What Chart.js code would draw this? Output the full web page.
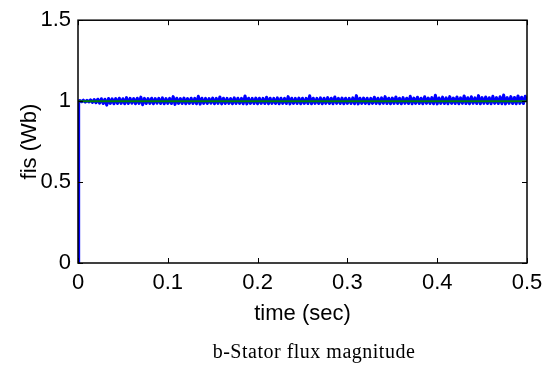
<!DOCTYPE html>
<html>
<head>
<meta charset="utf-8">
<script src="https://cdn.jsdelivr.net/npm/chart.js@4"></script>
<style>
html,body{margin:0;padding:0;background:#fff;}
canvas{display:block;}
</style>
</head>
<body>
<canvas id="c" width="552" height="367"></canvas>
<script>
// ---- data ----
const timeBlue = [0, 0.0005, 0.001,
 0.002,0.004,0.006,0.008,0.010,0.012,0.014,0.016,0.018,0.020,
 0.022,0.024,0.026,0.028,0.030,0.032,0.034,0.036,0.038,0.040,
 0.042,0.044,0.046,0.048,0.050,0.052,0.054,0.056,0.058,0.060,
 0.062,0.064,0.066,0.068,0.070,0.072,0.074,0.076,0.078,0.080,
 0.082,0.084,0.086,0.088,0.090,0.092,0.094,0.096,0.098,0.100,
 0.102,0.104,0.106,0.108,0.110,0.112,0.114,0.116,0.118,0.120,
 0.122,0.124,0.126,0.128,0.130,0.132,0.134,0.136,0.138,0.140,
 0.142,0.144,0.146,0.148,0.150,0.152,0.154,0.156,0.158,0.160,
 0.162,0.164,0.166,0.168,0.170,0.172,0.174,0.176,0.178,0.180,
 0.182,0.184,0.186,0.188,0.190,0.192,0.194,0.196,0.198,0.200,
 0.202,0.204,0.206,0.208,0.210,0.212,0.214,0.216,0.218,0.220,
 0.222,0.224,0.226,0.228,0.230,0.232,0.234,0.236,0.238,0.240,
 0.242,0.244,0.246,0.248,0.250,0.252,0.254,0.256,0.258,0.260,
 0.262,0.264,0.266,0.268,0.270,0.272,0.274,0.276,0.278,0.280,
 0.282,0.284,0.286,0.288,0.290,0.292,0.294,0.296,0.298,0.300,
 0.302,0.304,0.306,0.308,0.310,0.312,0.314,0.316,0.318,0.320,
 0.322,0.324,0.326,0.328,0.330,0.332,0.334,0.336,0.338,0.340,
 0.342,0.344,0.346,0.348,0.350,0.352,0.354,0.356,0.358,0.360,
 0.362,0.364,0.366,0.368,0.370,0.372,0.374,0.376,0.378,0.380,
 0.382,0.384,0.386,0.388,0.390,0.392,0.394,0.396,0.398,0.400,
 0.402,0.404,0.406,0.408,0.410,0.412,0.414,0.416,0.418,0.420,
 0.422,0.424,0.426,0.428,0.430,0.432,0.434,0.436,0.438,0.440,
 0.442,0.444,0.446,0.448,0.450,0.452,0.454,0.456,0.458,0.460,
 0.462,0.464,0.466,0.468,0.470,0.472,0.474,0.476,0.478,0.480,
 0.482,0.484,0.486,0.488,0.490,0.492,0.494,0.496,0.498,0.500];
const fisActual = [0, 0.6, 1.0,
 1.004,0.996,1.006,0.994,1.005,0.995,1.008,0.992,1.010,0.990,
 1.012,0.988,1.015,0.985,1.012,0.975,1.016,0.986,1.014,0.984,
 1.016,0.985,1.018,0.986,1.015,0.984,1.022,0.985,1.017,0.987,
 1.016,0.984,1.018,0.986,1.025,0.978,1.017,0.985,1.016,0.986,
 1.018,0.984,1.016,0.987,1.017,0.985,1.020,0.984,1.016,0.986,
 1.017,0.985,1.028,0.980,1.018,0.986,1.016,0.985,1.019,0.984,
 1.016,0.986,1.018,0.985,1.017,0.984,1.030,0.982,1.018,0.986,
 1.017,0.985,1.016,0.987,1.019,0.984,1.017,0.986,1.026,0.983,
 1.018,0.985,1.017,0.986,1.016,0.984,1.020,0.985,1.018,0.986,
 1.017,0.984,1.032,0.983,1.018,0.986,1.017,0.985,1.019,0.984,
 1.018,0.986,1.017,0.985,1.024,0.984,1.018,0.986,1.017,0.985,
 1.020,0.984,1.018,0.986,1.017,0.985,1.028,0.983,1.018,0.986,
 1.017,0.985,1.019,0.984,1.018,0.986,1.017,0.985,1.033,0.984,
 1.018,0.986,1.017,0.985,1.020,0.984,1.018,0.986,1.022,0.985,
 1.018,0.984,1.026,0.986,1.017,0.985,1.019,0.984,1.018,0.986,
 1.017,0.985,1.020,0.984,1.034,0.983,1.018,0.986,1.019,0.985,
 1.018,0.984,1.017,0.986,1.024,0.985,1.018,0.984,1.020,0.986,
 1.028,0.985,1.018,0.984,1.019,0.986,1.026,0.985,1.018,0.984,
 1.022,0.986,1.018,0.985,1.030,0.984,1.019,0.986,1.024,0.985,
 1.018,0.984,1.027,0.986,1.019,0.985,1.022,0.984,1.036,0.983,
 1.019,0.986,1.025,0.985,1.020,0.984,1.028,0.986,1.019,0.985,
 1.026,0.984,1.020,0.986,1.032,0.985,1.021,0.984,1.027,0.986,
 1.020,0.985,1.034,0.984,1.022,0.986,1.026,0.985,1.021,0.984,
 1.030,0.986,1.022,0.985,1.027,0.984,1.038,0.983,1.022,0.986,
 1.028,0.985,1.023,0.984,1.032,0.986,1.024,0.985,1.030,1.000];
const timeRef = [0, 0.5];
const fisRef = [1, 1];
const xTicks = [0, 0.1, 0.2, 0.3, 0.4, 0.5];
const yTicks = [0, 0.5, 1, 1.5];
const xTitle = 'time (sec)';
const yTitle = 'fis (Wb)';
const caption = 'b-Stator flux magnitude';

const SANS = "'Liberation Sans', Arial, sans-serif";
const SERIF = "'Liberation Serif', 'Times New Roman', serif";

const toPts = (xs, ys) => xs.map((x, i) => ({x: x, y: ys[i]}));

const framePlugin = {
  id: 'frame',
  afterDatasetsDraw(chart) {
    const {ctx, chartArea: a, scales: {x, y}} = chart;
    ctx.save();
    ctx.strokeStyle = '#000';
    ctx.lineWidth = 1.5;
    ctx.strokeRect(a.left, a.top, a.right - a.left, a.bottom - a.top);
    ctx.lineWidth = 1;
    const L = 5;
    ctx.beginPath();
    xTicks.forEach(v => {
      const px = Math.round(x.getPixelForValue(v)) + 0.5;
      ctx.moveTo(px, a.bottom); ctx.lineTo(px, a.bottom - L);
      ctx.moveTo(px, a.top); ctx.lineTo(px, a.top + L);
    });
    yTicks.forEach(v => {
      const py = Math.round(y.getPixelForValue(v)) + 0.5;
      ctx.moveTo(a.left, py); ctx.lineTo(a.left + L, py);
      ctx.moveTo(a.right, py); ctx.lineTo(a.right - L, py);
    });
    ctx.stroke();
    ctx.restore();
  },
  afterDraw(chart) {
    const ctx = chart.ctx;
    ctx.save();
    ctx.fillStyle = '#000';
    ctx.font = '20px ' + SERIF;
    ctx.textAlign = 'center';
    ctx.textBaseline = 'alphabetic';
    try { ctx.letterSpacing = '0.5px'; } catch (e) {}
    ctx.fillText(caption, 314, 358);
    ctx.restore();
  }
};

new Chart(document.getElementById('c'), {
  type: 'line',
  data: {
    datasets: [
      {data: toPts(timeRef, fisRef), borderColor: '#008000', borderWidth: 2, pointRadius: 0, fill: false, order: 0},
      {data: toPts(timeBlue, fisActual), borderColor: '#0000ff', borderWidth: 3, pointRadius: 0, fill: false, tension: 0, borderJoinStyle: 'round', order: 1}
    ]
  },
  options: {
    responsive: false,
    animation: false,
    events: [],
    layout: {padding: {left: 0, right: 25, top: 16, bottom: 0}},
    plugins: {legend: {display: false}, tooltip: {enabled: false}, title: {display: false}},
    scales: {
      x: {
        type: 'linear', min: 0, max: 0.5,
        afterBuildTicks: s => { s.ticks = xTicks.map(v => ({value: v})); },
        afterFit: s => { s.height = 104; },
        grid: {display: false, drawTicks: false},
        border: {display: false},
        ticks: {color: '#000', font: {family: SANS, size: 22}, padding: 7, maxRotation: 0,
                callback: v => String(v)},
        title: {display: true, text: xTitle, color: '#000', font: {family: SANS, size: 22},
                padding: {top: 0, bottom: 40}}
      },
      y: {
        type: 'linear', min: 0, max: 1.5,
        afterBuildTicks: s => { s.ticks = yTicks.map(v => ({value: v})); },
        afterFit: s => { s.width = 78; },
        grid: {display: false, drawTicks: false},
        border: {display: false},
        ticks: {color: '#000', font: {family: SANS, size: 22}, padding: 7,
                callback: v => String(v)},
        title: {display: true, text: yTitle, color: '#000', font: {family: SANS, size: 22},
                padding: {top: 17, bottom: 0}}
      }
    }
  },
  plugins: [framePlugin]
});
</script>
</body>
</html>
